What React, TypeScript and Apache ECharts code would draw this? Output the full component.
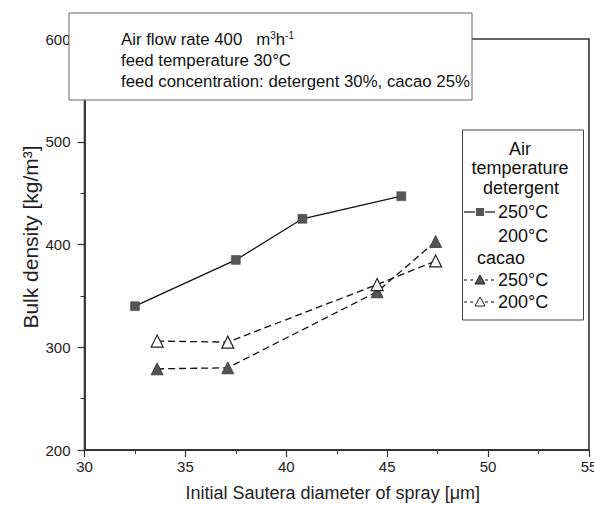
import React, { useEffect, useRef } from "react";
import * as echarts from "echarts";

const xTicks = [30, 35, 40, 45, 50, 55];
const yTicks = [200, 300, 400, 500, 600];

const detX = [32.5, 37.5, 40.8, 45.7];
const detY = [340, 385, 425, 447];

const cac250X = [33.6, 37.1, 44.5, 47.4];
const cac250Y = [279, 280, 354, 403];

const cac200X = [33.6, 37.1, 44.5, 47.4];
const cac200Y = [306, 305, 361, 384];

const FONT = "Liberation Sans, Arial, sans-serif";

export default function App() {
  const ref = useRef<HTMLDivElement>(null);

  useEffect(() => {
    if (!ref.current) return;
    const chart = echarts.init(ref.current, null, { renderer: "svg" });
    const pair = (xs: number[], ys: number[]) => xs.map((x, i) => [x, ys[i]]);
    const axisCol = "#333";

    const lx = 464;
    const legendText = (text: string, x: number, y: number, align = "center") => ({
      type: "text",
      z: 100,
      style: { text, x, y, fill: "#111", font: `18px ${FONT}`, align, verticalAlign: "middle" },
    });
    const tri = (cx: number, cy: number, fill: string) => ({
      type: "polygon",
      z: 101,
      shape: { points: [[cx, cy - 5], [cx - 5, cy + 4], [cx + 5, cy + 4]] },
      style: { fill, stroke: "#222", lineWidth: 1 },
    });
    const seg = (x1: number, x2: number, y: number, dashed: boolean) => ({
      type: "line",
      z: 100,
      shape: { x1, y1: y, x2, y2: y },
      style: { stroke: "#111", lineWidth: 1.2, lineDash: dashed ? [3, 3] : null },
    });

    chart.setOption({
      animation: false,
      backgroundColor: "#fff",
      grid: {
        left: 84.5,
        right: 5,
        top: 39,
        bottom: 58,
        containLabel: false,
        outerBoundsMode: "none",
        show: true,
        borderColor: axisCol,
        borderWidth: 1.6,
        backgroundColor: "transparent",
      },
      xAxis: {
        type: "value",
        min: xTicks[0],
        max: xTicks[xTicks.length - 1],
        interval: 5,
        name: "Initial Sautera diameter of spray [μm]",
        nameLocation: "middle",
        nameGap: 34,
        nameTextStyle: { fontFamily: FONT, fontSize: 18, color: "#222", padding: [0, 8, 0, 0] },
        axisLine: { lineStyle: { color: axisCol, width: 1.8 } },
        axisTick: { show: true, length: 7, lineStyle: { color: axisCol, width: 1.2 } },
        minorTick: { show: true, splitNumber: 2, length: 4, lineStyle: { color: axisCol, width: 1 } },
        axisLabel: { fontFamily: FONT, fontSize: 15, color: "#222", margin: 9 },
        splitLine: { show: false },
      },
      yAxis: {
        type: "value",
        min: yTicks[0],
        max: yTicks[yTicks.length - 1],
        interval: 100,
        axisLine: { show: true, lineStyle: { color: axisCol, width: 1.8 } },
        axisTick: { show: true, length: 7, lineStyle: { color: axisCol, width: 1.2 } },
        minorTick: { show: true, splitNumber: 2, length: 4, lineStyle: { color: axisCol, width: 1 } },
        axisLabel: { fontFamily: FONT, fontSize: 15, color: "#222", margin: 14 },
        splitLine: { show: false },
      },
      series: [
        {
          name: "detergent 250°C",
          type: "line",
          data: pair(detX, detY),
          symbol: "rect",
          symbolSize: 9,
          itemStyle: { color: "#555", borderColor: "#444", borderWidth: 0.5 },
          lineStyle: { color: "#111", width: 1.3 },
          z: 3,
        },
        {
          name: "cacao 250°C",
          type: "line",
          data: pair(cac250X, cac250Y),
          symbol: "triangle",
          symbolSize: 12,
          itemStyle: { color: "#555", borderColor: "#333", borderWidth: 0.8 },
          lineStyle: { color: "#111", width: 1.3, type: [7, 4] },
          z: 3,
        },
        {
          name: "cacao 200°C",
          type: "line",
          data: pair(cac200X, cac200Y),
          symbol: "triangle",
          symbolSize: 12,
          itemStyle: { color: "#fff", borderColor: "#222", borderWidth: 1.2 },
          lineStyle: { color: "#111", width: 1.3, type: [7, 4] },
          z: 4,
        },
      ],
      graphic: [
        {
          type: "text",
          z: 50,
          x: 30,
          y: 237,
          rotation: Math.PI / 2,
          style: {
            text: "Bulk density [kg/m³]",
            font: `21px ${FONT}`,
            fill: "#222",
            align: "center",
            verticalAlign: "middle",
          },
        },
        {
          type: "rect",
          z: 90,
          shape: { x: 69, y: 13, width: 403, height: 87 },
          style: { fill: "#fff", stroke: "#666", lineWidth: 1 },
        },
        {
          type: "text",
          z: 91,
          style: {
            x: 121,
            y: 39,
            verticalAlign: "middle",
            text: "{a|Air flow rate 400   m}{s|3}{a|h}{s|-1}",
            rich: {
              a: { font: `16.8px ${FONT}`, fill: "#111", verticalAlign: "bottom" },
              s: { font: `10px ${FONT}`, fill: "#111", padding: [0, 0, 8, 0], verticalAlign: "bottom" },
            },
          },
        },
        {
          type: "text",
          z: 91,
          style: { x: 121, y: 60, verticalAlign: "middle", text: "feed temperature 30°C", font: `16.8px ${FONT}`, fill: "#111" },
        },
        {
          type: "text",
          z: 91,
          style: {
            x: 121,
            y: 81,
            verticalAlign: "middle",
            text: "feed concentration: detergent 30%, cacao 25%",
            font: `16.8px ${FONT}`,
            fill: "#111",
          },
        },
        {
          type: "rect",
          z: 90,
          shape: { x: 462.5, y: 130, width: 121, height: 190 },
          style: { fill: "#fff", stroke: "#444", lineWidth: 1 },
        },
        legendText("Air", 520, 149),
        legendText("temperature", 520, 168),
        legendText("detergent", 521, 188),
        seg(lx, 475, 212, false),
        seg(485, 495, 212, false),
        { type: "rect", z: 101, shape: { x: 476, y: 208, width: 8, height: 8 }, style: { fill: "#555" } },
        legendText("250°C", 498, 212, "left"),
        legendText("200°C", 498, 236, "left"),
        legendText("cacao", 501, 258),
        seg(lx, 475, 280, true),
        seg(485, 495, 280, true),
        tri(480, 280, "#555"),
        legendText("250°C", 498, 280, "left"),
        seg(lx, 475, 302, true),
        seg(485, 495, 302, true),
        tri(480, 302, "#fff"),
        legendText("200°C", 498, 302, "left"),
      ],
    });
    return () => chart.dispose();
  }, []);

  return <div ref={ref} style={{ width: 594, height: 508, position: "absolute", left: 0, top: 0 }} />;
}
